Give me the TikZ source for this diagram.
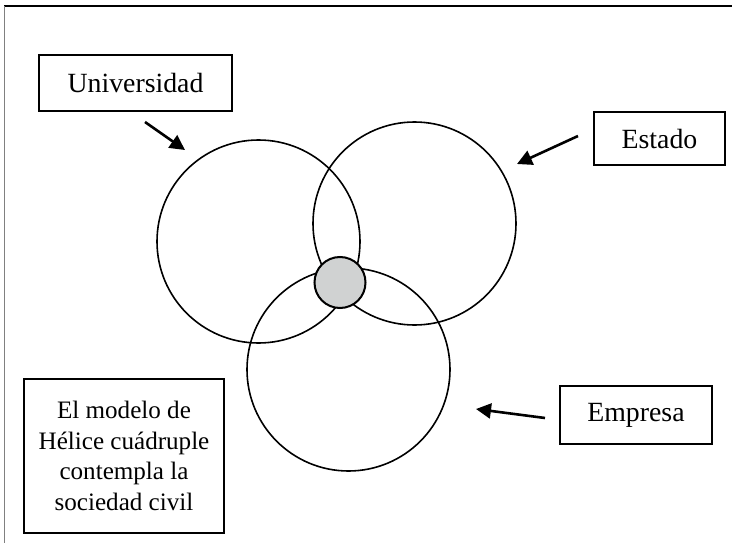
\documentclass[tikz,border=0pt]{standalone}
\usepackage{fontspec}
\setmainfont{Liberation Serif}
\usepackage{tikz}
\usetikzlibrary{arrows.meta,positioning}
\definecolor{heliceGray}{RGB}{208,210,210}
\tikzset{
  labelbox/.style={draw=black,line width=1.6pt,inner sep=0pt,font=\fontsize{27.8}{30.5}\selectfont},
  helix/.style={draw=black,line width=1.6pt,circle,minimum size=203pt,inner sep=0pt},
  pointer/.style={line width=2.6pt,-{Triangle[length=15pt,width=15pt]}}
}
\begin{document}
\begin{tikzpicture}[x=1pt,y=-1pt]
\useasboundingbox (0,0) rectangle (732,543);
\draw[black,line width=1.6pt] (4,6) -- (732,6);
\draw[gray,line width=1pt] (4,6) -- (4,543);
\node[helix] (univ) at (258.5,241.5) {};
\node[helix] (estado) at (414.5,223.5) {};
\node[helix] (empresa) at (348.5,369.5) {};
\node[draw=black,line width=2pt,fill=heliceGray,circle,minimum size=51pt,inner sep=0pt] (nucleo) at (340,282.5) {};
\node[labelbox,minimum width=193pt,minimum height=56pt] (univbox) at (135.5,83) {Universidad};
\node[labelbox,minimum width=131pt,minimum height=53pt] (estadobox) at (659.5,138.5) {Estado};
\node[labelbox,minimum width=152pt,minimum height=58pt] (empresabox) at (636,415) {Empresa};
\node[labelbox,minimum width=200pt,minimum height=154pt,align=center,
  font=\fontsize{25.1}{30.5}\selectfont] (modelo) at (124,456)
  {El modelo de\\H\'elice cu\'adruple\\contempla la\\sociedad civil};
\coordinate (utail) at (145,122);
\coordinate (uhead) at (185,150);
\coordinate (etail) at (578,136);
\coordinate (ehead) at (517,164);
\coordinate (ptail) at (545,418);
\coordinate (phead) at (476,409);
\draw[pointer] (utail) -- (uhead);
\draw[pointer] (etail) -- (ehead);
\draw[pointer] (ptail) -- (phead);
\end{tikzpicture}
\end{document}
